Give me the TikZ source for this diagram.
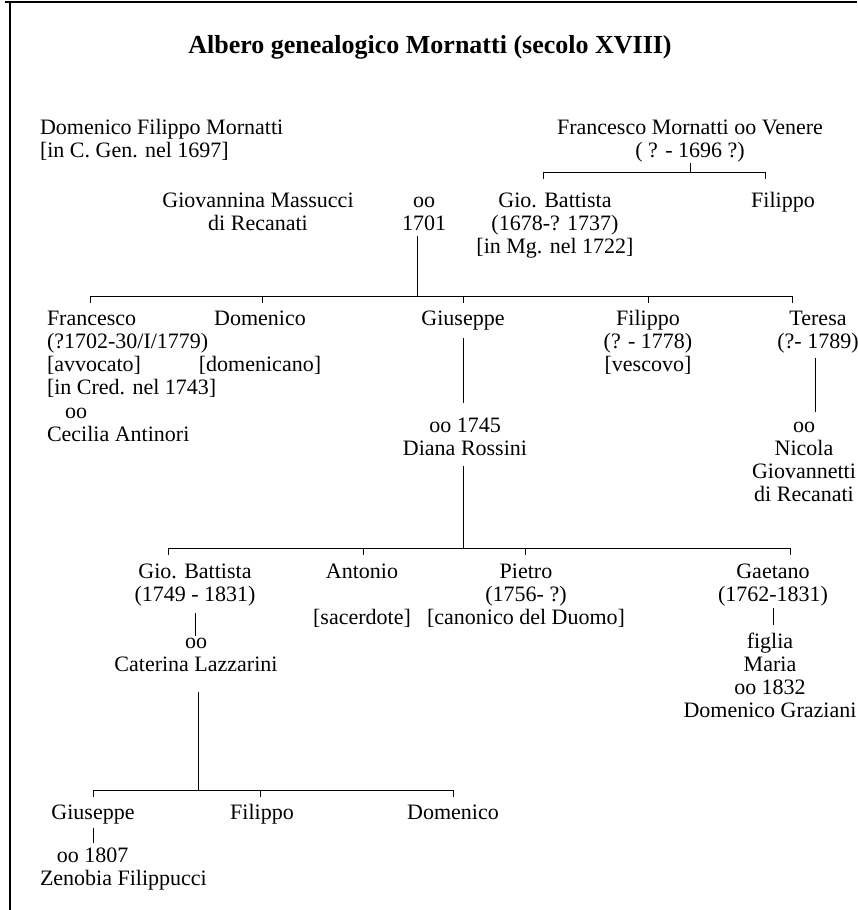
\documentclass[tikz,border=0pt]{standalone}
\usepackage{fontspec}
\setmainfont{Liberation Serif}
\usetikzlibrary{positioning}

\begin{document}
\begin{tikzpicture}[x=1pt,y=-1pt,
		every node/.style={inner sep=0pt,outer sep=0pt,font=\fontsize{22}{23.3}\selectfont},
		person/.style={align=center,anchor=base},
		lperson/.style={align=left,anchor=base west},
		link/.style={line width=1pt},
		bar/.style={line width=0.8pt}]

  \useasboundingbox (0,0) rectangle (857,910);
  \draw[line width=1.2pt] (5,2) -- (857,2);
  \draw[line width=1.2pt] (10,2) -- (10,910);

  \node[font=\bfseries\fontsize{26}{30}\selectfont,anchor=base] (title) at (430,53) {Albero genealogico Mornatti (secolo XVIII)};

  % first generation (base = last line)
  \node[lperson] (dfm) at (40,157.3) {Domenico Filippo Mornatti\\{}[in C. Gen. nel 1697]};
  \node[person] (fmv) at (690,157.3) {Francesco Mornatti oo Venere\\( ? - 1696 ?)};
  \node[person] (gm) at (258,230.3) {Giovannina Massucci\\di Recanati};
  \node[person] (m1701) at (424,230.3) {oo\\1701};
  \node[person] (gb1) at (555,253.6) {Gio. Battista\\(1678-? 1737)\\{}[in Mg. nel 1722]};
  \node[person] (fil1) at (783,207) {Filippo};

  % second generation
  \node[lperson] (fra) at (47,441.5) {Francesco\\(?1702-30/I/1779)\\{}[avvocato]\\{}[in Cred. nel 1743]\\\hspace*{18pt}oo\\Cecilia Antinori};
  \node[person] (dom) at (260,371.6) {Domenico\\~\\{}[domenicano]};
  \node[person] (gius) at (463,325) {Giuseppe};
  \node[person] (diana) at (465,455.3) {oo 1745\\Diana Rossini};
  \node[person] (fil2) at (648,371.6) {Filippo\\(? - 1778)\\{}[vescovo]};
  \node[person] (ter) at (818,348.3) {Teresa\\(?- 1789)};
  \node[person] (nic) at (804,501.9) {oo\\Nicola\\Giovannetti\\di Recanati};

  % third generation
  \node[person] (gb2) at (195,601.3) {Gio. Battista\\(1749 - 1831)};
  \node[person] (cat) at (196,671.3) {oo\\Caterina Lazzarini};
  \node[person] (ant) at (362,624.6) {Antonio\\~\\{}[sacerdote]};
  \node[person] (pie) at (526,624.6) {Pietro\\(1756- ?)\\{}[canonico del Duomo]};
  \node[person] (gae) at (773,601.3) {Gaetano\\(1762-1831)};
  \node[person] (mar) at (770,717.9) {figlia\\Maria\\oo 1832\\Domenico Graziani};

  % fourth generation
  \node[person] (gius2) at (93,819) {Giuseppe};
  \node[lperson] (zen) at (40,885.3) {\hspace*{17pt}oo 1807\\Zenobia Filippucci};
  \node[person] (fil3) at (262,819) {Filippo};
  \node[person] (dom3) at (453,819) {Domenico};

  % bars of siblings
  \coordinate (t0) at (543,172);  \coordinate (t1) at (765,172);
  \coordinate (a0) at (417,296);
  \coordinate (a1) at (90,296);   \coordinate (a2) at (262,296);
  \coordinate (a3) at (463,296);  \coordinate (a4) at (648,296);
  \coordinate (a5) at (792,296);
  \coordinate (b0) at (463,548);
  \coordinate (b1) at (168,548);  \coordinate (b2) at (363,548);
  \coordinate (b3) at (525,548);  \coordinate (b4) at (790,548);
  \coordinate (c0) at (198,790);
  \coordinate (c1) at (93,790);   \coordinate (c2) at (260,790);
  \coordinate (c3) at (453,790);
  \coordinate (tl) at (815,358);

  \draw[bar] (t0) -- (t1);
  \draw[bar] (a1) -- (a5);
  \draw[bar] (b1) -- (b4);
  \draw[bar] (c1) -- (c3);
  \foreach \t in {t0,t1,a1,a2,a3,a4,a5,b1,b2,b3,b4,c1,c2,c3}
    \draw[bar] (\t) -- ++(0,7);

  % descent lines
  \path (fmv.south) edge[bar,shorten <=1pt] (fmv.south |- t0)
        ([yshift=-5pt]a0 |- m1701.south) edge[link] (a0)
        (gius.south) edge[link,shorten <=8pt,shorten >=14pt] (gius.south |- diana.north)
        (tl) edge[link,shorten >=10pt] (tl |- nic.north)
        ([yshift=-10pt]b0 |- diana.south) edge[link] (b0)
        (gb2.south) edge[link,shorten <=7pt,shorten >=2pt] (gb2.south |- cat.north)
        (gae.south) edge[bar,shorten <=2pt,shorten >=8pt] (gae.south |- mar.north)
        ([yshift=-20pt]c0 |- cat.south) edge[link] (c0)
        (gius2.south) edge[link,shorten <=4pt,shorten >=4pt] (gius2.south |- zen.north);

\end{tikzpicture}
\end{document}
